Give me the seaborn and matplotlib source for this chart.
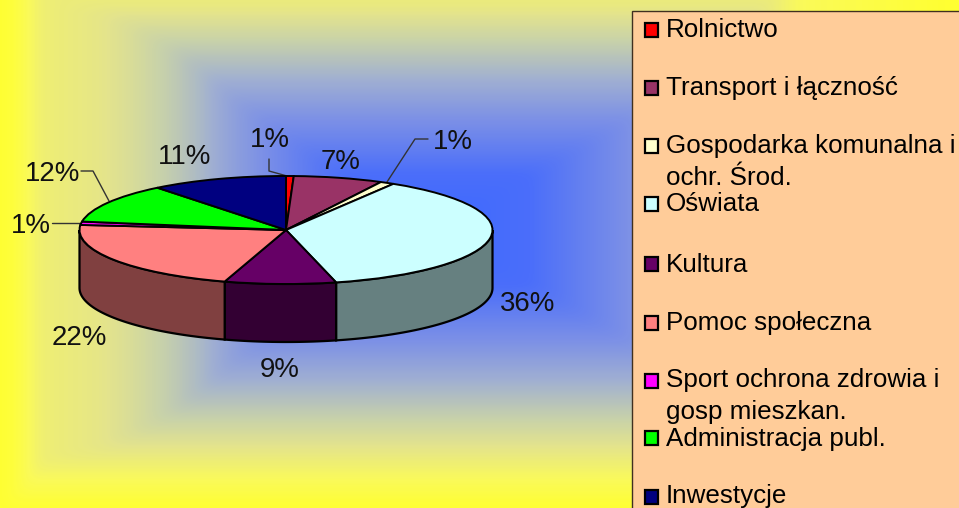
import matplotlib
matplotlib.use('Agg')
import matplotlib.pyplot as plt
from matplotlib.colors import LinearSegmentedColormap
from matplotlib.patches import Rectangle
import numpy as np
import seaborn as sns

# chart data
categories = ['Rolnictwo', 'Transport i łączność', 'Gospodarka komunalna i\nochr. Środ.', 'Oświata', 'Kultura',
              'Pomoc społeczna', 'Sport ochrona zdrowia i\ngosp mieszkan.', 'Administracja publ.', 'Inwestycje']
shares = [0.6, 7.0, 1.1, 37.4, 8.7, 21.7, 1.0, 11.8, 10.7]
slice_colors = ['#FF0000', '#993366', '#FFFFCC', '#CCFFFF', '#660066', '#FF8080', '#FF00FF', '#00FF00', '#000080']

sns.set_theme(style='white')
plt.rcParams['font.family'] = ['Liberation Sans', 'DejaVu Sans']
palette = sns.color_palette(slice_colors)

W, H = 959, 508
fig = plt.figure(figsize=(W / 100, H / 100), dpi=100)

# whole-figure axes in pixel units, for background, legend box and labels
page = fig.add_axes([0, 0, 1, 1])
page.set_xlim(0, W)
page.set_ylim(H, 0)
page.axis('off')

# rectangular gradient, blue centre to yellow edges
xx, yy = np.meshgrid(np.arange(W) + 0.5, np.arange(H) + 0.5)
t_x = np.interp(xx, [0, 15, 40, 100, 130, 170, 200, 230, 300, 430, 630, 800, 950],
                [1, .97, .84, .79, .74, .66, .58, .48, .3, 0, .4, .9, 1])
t_y = np.abs(yy - 230) / 278
t = np.maximum(t_x, t_y)
# soften the creases a bit
box = np.ones(21) / 21
t = np.apply_along_axis(lambda r: np.convolve(np.pad(r, 10, mode='edge'), box, mode='valid'), 0, t)
t = np.apply_along_axis(lambda r: np.convolve(np.pad(r, 10, mode='edge'), box, mode='valid'), 1, t)
grad = LinearSegmentedColormap.from_list('bg', [(0, '#3C69FF'), (.2, '#4B6EFA'), (.4, '#7D91E6'), (.54, '#A0AFD2'),
                                                (.68, '#C8D2AA'), (.78, '#E4E48C'), (.9, '#FAFA5A'), (1, '#FFFF32')])
page.imshow(t, cmap=grad, vmin=0, vmax=1, extent=(0, W, H, 0), aspect='auto', interpolation='bilinear')

# legend box
page.add_patch(Rectangle((632, 11), 340, 520, facecolor='#FFCC99', edgecolor='#403020', linewidth=1))
swatch_y = [30, 88, 146, 204, 264, 323, 381, 438, 497]
text_y = [37, 95, 153, 211, 272, 330, 387, 446, 503]
for name, col, sy, ty in zip(categories, palette, swatch_y, text_y):
    page.add_patch(Rectangle((644.5, sy - 6.75), 13.5, 13.5, facecolor=col, edgecolor='black', linewidth=1.6))
    parts = name.split('\n')
    if len(parts) == 2:
        page.text(666, ty, parts[0], fontsize=18.7, va='baseline', color='black')
        page.text(666, ty + 32, parts[1], fontsize=18.7, va='baseline', color='black')
    else:
        page.text(666, ty, name, fontsize=18.7, va='baseline', color='black')

# percent labels
pct_labels = [('1%', 250, 147), ('7%', 321, 169), ('1%', 433, 149), ('36%', 500, 311), ('9%', 260, 377),
              ('22%', 52, 345), ('1%', 11, 233), ('12%', 25, 181), ('11%', 158, 164)]
for s, x, y in pct_labels:
    page.text(x, y, s, fontsize=19.9, va='baseline', ha='left', color='#111111')

# leader lines
leaders = [([269, 269, 287], [159, 171, 176]), ([428, 415, 387], [139, 139, 182]),
           ([81, 93, 109], [171, 171, 201]), ([52, 80], [223, 223])]
for lx, ly in leaders:
    page.plot(lx, ly, color='#333333', lw=1, zorder=5)

# pie in its own axes, squashed to an ellipse
left, right, top, bottom = 79.5, 492.5, 176, 284
pie_ax = fig.add_axes([left / W, 1 - bottom / H, (right - left) / W, (bottom - top) / H])
pie_ax.patch.set_alpha(0)
pie_ax.pie(shares, colors=palette, startangle=90, counterclock=False, radius=1,
           wedgeprops={'edgecolor': 'black', 'linewidth': 1.4, 'zorder': 3})
pie_ax.set_aspect('auto')
pie_ax.set_xlim(-1, 1)
pie_ax.set_ylim(-1, 1)

# side wall, front half only
depth = 58 / ((bottom - top) / 2)
edges = np.cumsum([0] + shares) / sum(shares) * 2 * np.pi
for a0, a1, col in zip(edges[:-1], edges[1:], palette):
    lo, hi = max(a0, np.pi / 2), min(a1, 3 * np.pi / 2)
    if hi <= lo:
        continue
    th = np.linspace(lo, hi, 60)
    wx = np.sin(th)
    wy = np.cos(th)
    pie_ax.fill(np.r_[wx, wx[::-1]], np.r_[wy, wy[::-1] - depth], facecolor=np.array(col) * 0.5,
                edgecolor='black', linewidth=1.6, clip_on=False, zorder=2)
for w in pie_ax.patches:
    w.set_clip_on(False)

fig.savefig('out.png', dpi=100)
